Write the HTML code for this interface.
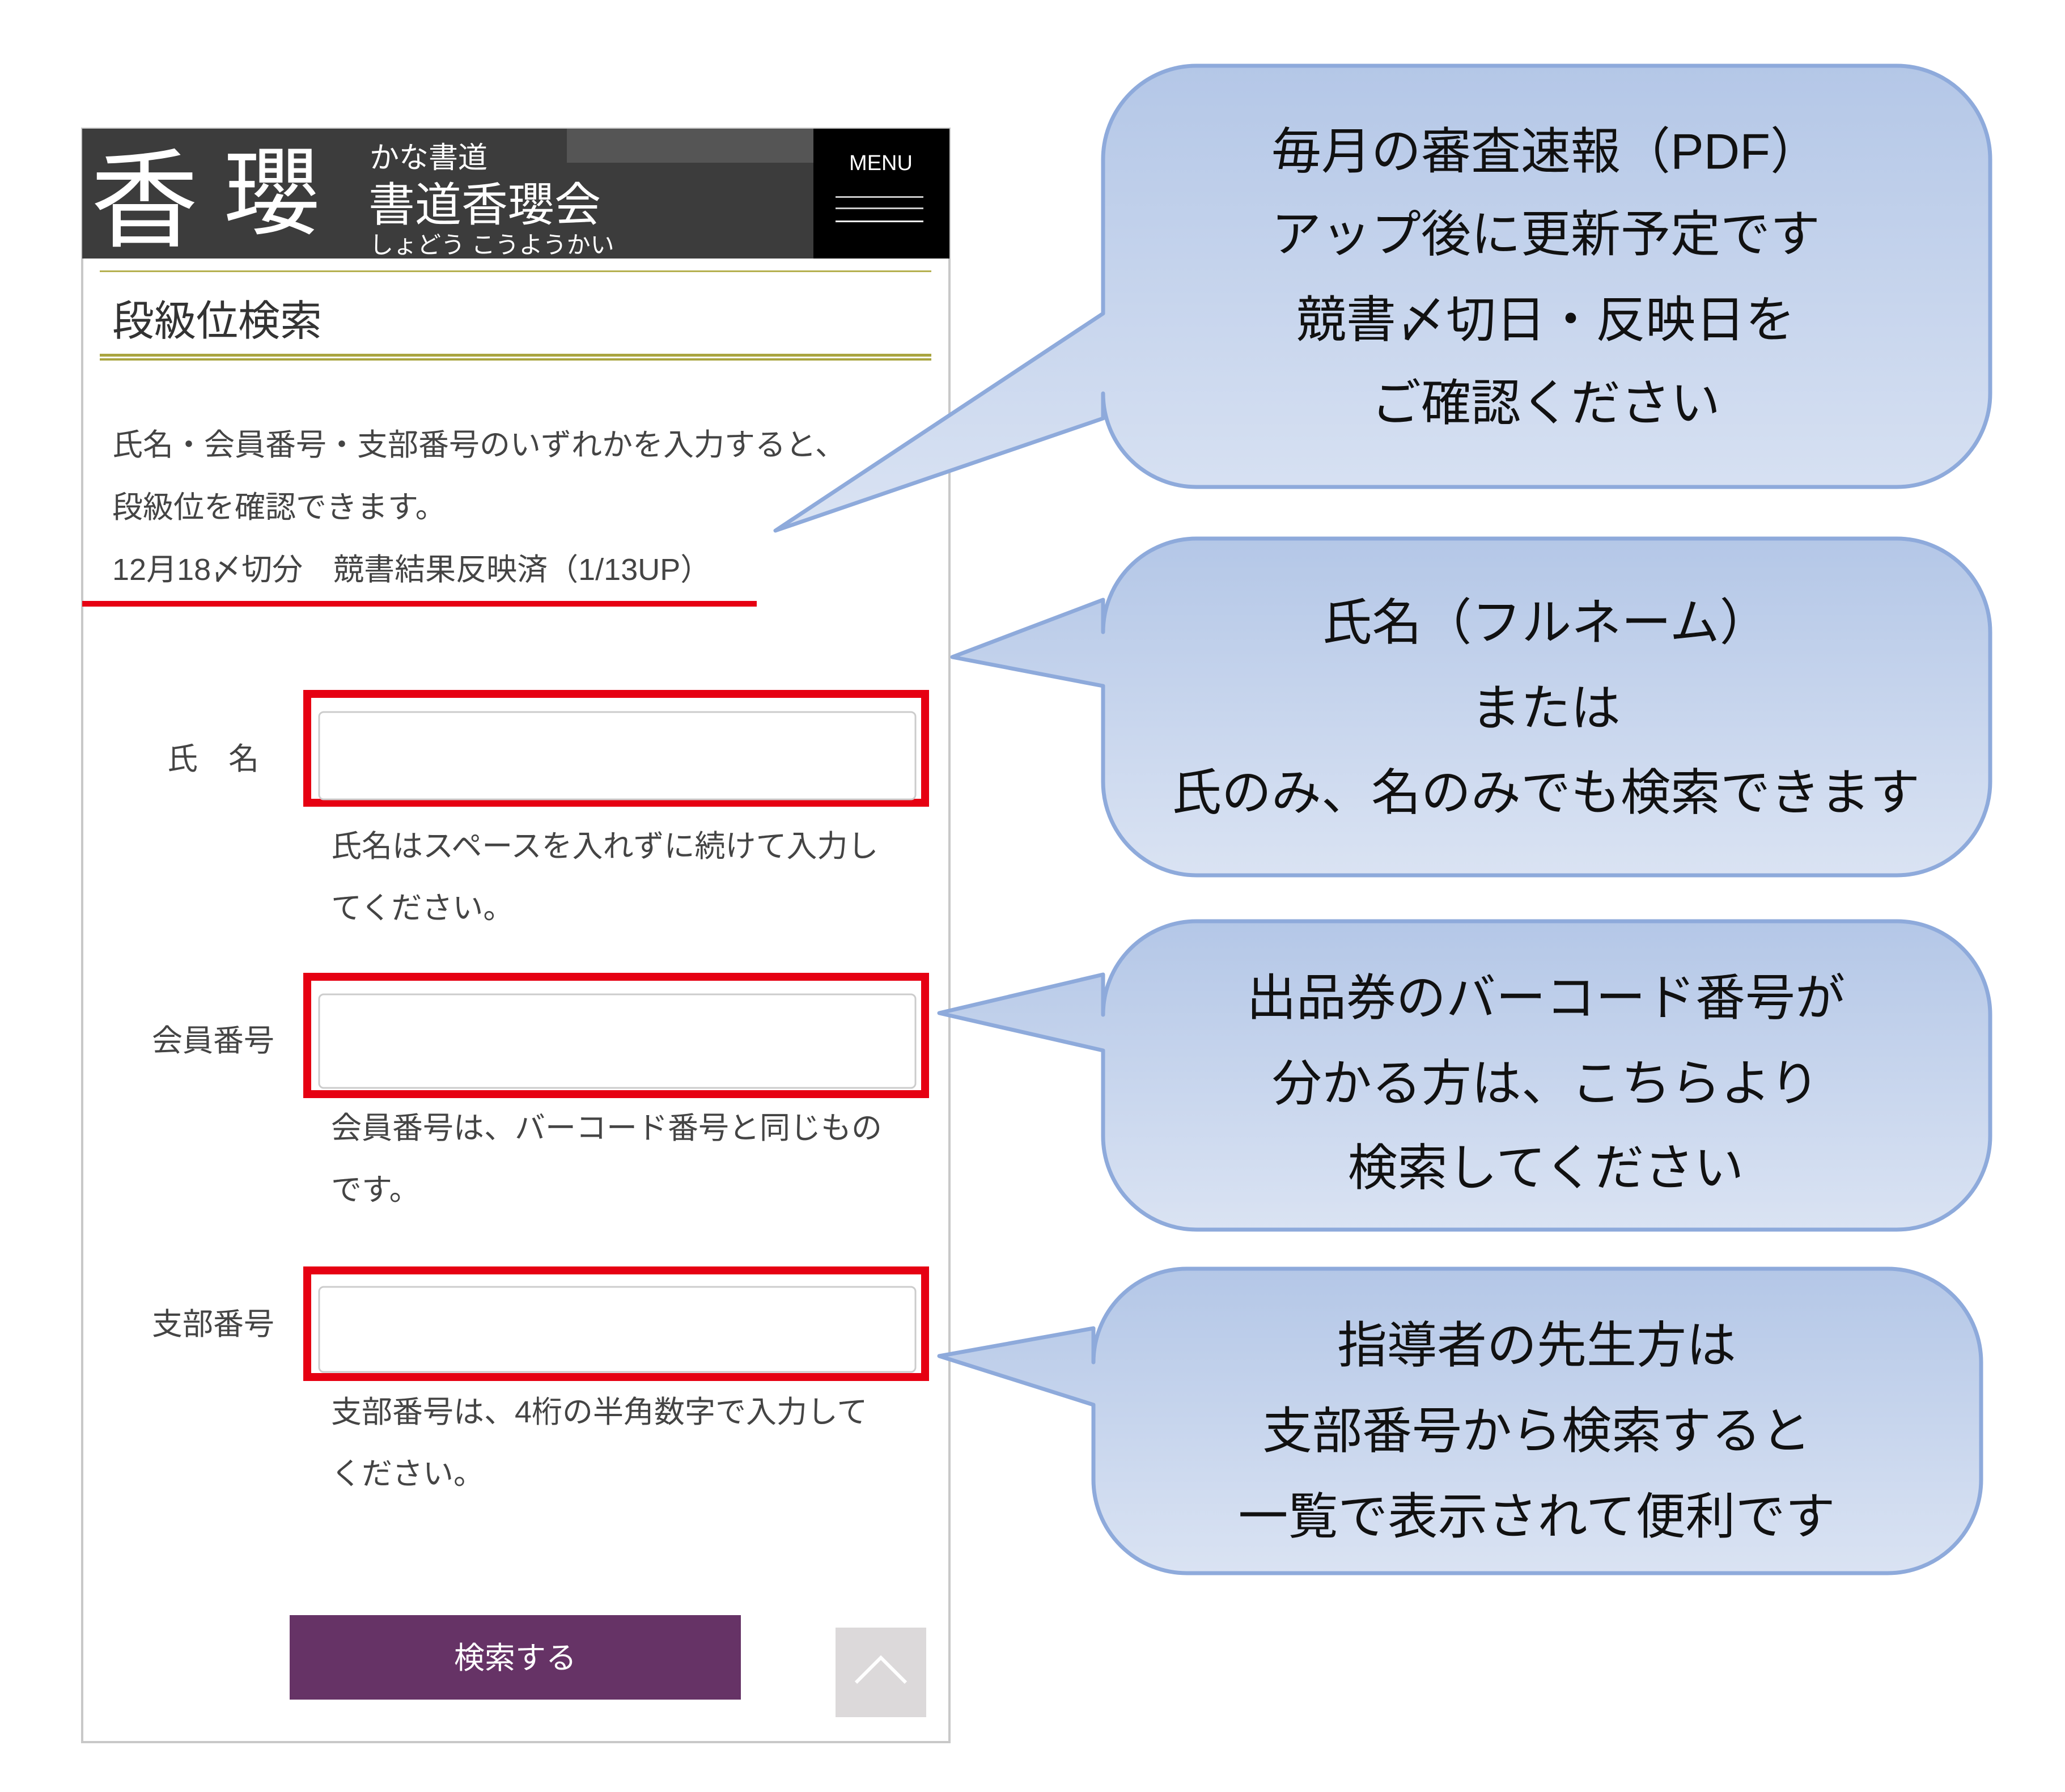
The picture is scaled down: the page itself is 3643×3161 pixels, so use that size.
<!DOCTYPE html>
<html><head><meta charset="utf-8"><style>
html,body{margin:0;padding:0;background:#fff}
svg{display:block}
text{font-family:"Liberation Sans","Noto Sans CJK JP",sans-serif}
</style></head><body>
<svg width="3643" height="3161" viewBox="0 0 3643 3161" xmlns="http://www.w3.org/2000/svg">
<defs>
<linearGradient id="g" x1="0" y1="0" x2="0" y2="1"><stop offset="0" stop-color="#b4c7e7"/><stop offset="1" stop-color="#dae3f3"/></linearGradient>
</defs>
<rect width="3643" height="3161" fill="#fff"/>
<!-- phone frame -->
<rect x="145" y="227" width="1530" height="2846" fill="#fff" stroke="#c8c8c8" stroke-width="4"/>
<rect x="145" y="227" width="1290" height="229" fill="#3c3c3c"/>
<rect x="1000" y="227" width="435" height="60" fill="#555"/>
<rect x="1435" y="227" width="240" height="229" fill="#000"/>
<text x="160" y="420" font-size="190" fill="#fff" font-family="Liberation Serif,'Noto Serif CJK SC',serif">香</text>
<text x="395" y="400" font-size="170" fill="#fff" font-family="Liberation Serif,'Noto Serif CJK SC',serif">瓔</text>
<text x="652" y="279" font-size="52" fill="#fff" dominant-baseline="central">かな書道</text>
<text x="650" y="362" font-size="82" fill="#fff" dominant-baseline="central">書道香瓔会</text>
<text x="652" y="432" font-size="42" fill="#fff" dominant-baseline="central">しょどう こうようかい</text>
<text x="1554" y="288" font-size="38" fill="#fff" text-anchor="middle" dominant-baseline="central">MENU</text>
<rect x="1474" y="346" width="155" height="3" fill="#ccc"/>
<rect x="1474" y="366" width="155" height="3" fill="#ccc"/>
<rect x="1474" y="389" width="155" height="3" fill="#fff"/>
<rect x="176" y="477" width="1467" height="3" fill="#b5b050"/>
<text x="198" y="566" font-size="74" fill="#333" dominant-baseline="central">段級位検索</text>
<rect x="176" y="624" width="1467" height="5" fill="#aaa540"/>
<rect x="176" y="632" width="1467" height="4" fill="#aaa540"/>
<text x="198" y="785" font-size="54" fill="#444" dominant-baseline="central">氏名・会員番号・支部番号のいずれかを入力すると、</text>
<text x="198" y="895" font-size="54" fill="#444" dominant-baseline="central">段級位を確認できます。</text>
<text x="198" y="1005" font-size="54" fill="#444" dominant-baseline="central">12月18〆切分　競書結果反映済（1/13UP）</text>
<rect x="145" y="1060" width="1190" height="10" fill="#e60012"/>
<!-- fields -->
<text x="295" y="1339" font-size="54" fill="#444" dominant-baseline="central">氏　名</text>
<rect x="542" y="1224" width="1090" height="192" fill="#fff" stroke="#e60012" stroke-width="14"/>
<rect x="563" y="1256" width="1052" height="154" rx="8" fill="#fff" stroke="#ccc" stroke-width="3"/>
<text x="584" y="1493" font-size="54" fill="#444" dominant-baseline="central">氏名はスペースを入れずに続けて入力し</text>
<text x="584" y="1602" font-size="54" fill="#444" dominant-baseline="central">てください。</text>
<text x="268" y="1836" font-size="54" fill="#444" dominant-baseline="central">会員番号</text>
<rect x="542" y="1723" width="1090" height="207" fill="#fff" stroke="#e60012" stroke-width="14"/>
<rect x="563" y="1754" width="1052" height="165" rx="8" fill="#fff" stroke="#ccc" stroke-width="3"/>
<text x="584" y="1990" font-size="54" fill="#444" dominant-baseline="central">会員番号は、バーコード番号と同じもの</text>
<text x="584" y="2099" font-size="54" fill="#444" dominant-baseline="central">です。</text>
<text x="268" y="2336" font-size="54" fill="#444" dominant-baseline="central">支部番号</text>
<rect x="542" y="2241" width="1090" height="188" fill="#fff" stroke="#e60012" stroke-width="14"/>
<rect x="563" y="2270" width="1052" height="150" rx="8" fill="#fff" stroke="#ccc" stroke-width="3"/>
<text x="584" y="2491" font-size="54" fill="#444" dominant-baseline="central">支部番号は、4桁の半角数字で入力して</text>
<text x="584" y="2600" font-size="54" fill="#444" dominant-baseline="central">ください。</text>
<!-- button -->
<rect x="511" y="2849" width="796" height="149" fill="#663366"/>
<text x="909" y="2925" font-size="54" fill="#fff" text-anchor="middle" dominant-baseline="central">検索する</text>
<rect x="1474" y="2871" width="160" height="158" fill="#dcd9da"/>
<polyline points="1510,2968 1554,2924 1598,2968" fill="none" stroke="#fff" stroke-width="6"/>
<!-- callouts -->
<g stroke="#8eaadb" stroke-width="7" fill="url(#g)" stroke-linejoin="round">
<path d="M2111,116 H3346 A165,165 0 0 1 3511,281 V694 A165,165 0 0 1 3346,859 H2111 A165,165 0 0 1 1946,694 V738 L1368,936 L1946,553 V281 A165,165 0 0 1 2111,116 Z"/>
<path d="M2111,950 H3346 A165,165 0 0 1 3511,1115 V1379 A165,165 0 0 1 3346,1544 H2111 A165,165 0 0 1 1946,1379 V1210 L1680,1159 L1946,1058 V1115 A165,165 0 0 1 2111,950 Z"/>
<path d="M2111,1643 H3346 A165,165 0 0 1 3511,1808 V2022 A165,165 0 0 1 3346,2187 H2111 A165,165 0 0 1 1946,2022 V1871 L1657,1805 L1946,1737 V1808 A165,165 0 0 1 2111,1643 Z" transform="translate(0,-18)"/>
<path d="M2094,2238 H3330 A165,165 0 0 1 3495,2403 V2610 A165,165 0 0 1 3330,2775 H2094 A165,165 0 0 1 1929,2610 V2478 L1657,2392 L1929,2343 V2403 A165,165 0 0 1 2094,2238 Z"/>
</g>
<g font-size="88" fill="#111" text-anchor="middle" dominant-baseline="central">
<text x="2727" y="267">毎月の審査速報（PDF）</text>
<text x="2727" y="413">アップ後に更新予定です</text>
<text x="2727" y="564">競書〆切日・反映日を</text>
<text x="2727" y="711">ご確認ください</text>
<text x="2727" y="1098">氏名（フルネーム）</text>
<text x="2727" y="1249">または</text>
<text x="2727" y="1398">氏のみ、名のみでも検索できます</text>
<text x="2727" y="1760">出品券のバーコード番号が</text>
<text x="2727" y="1911">分かる方は、こちらより</text>
<text x="2727" y="2060">検索してください</text>
<text x="2711" y="2373">指導者の先生方は</text>
<text x="2711" y="2524">支部番号から検索すると</text>
<text x="2711" y="2675">一覧で表示されて便利です</text>
</g>
</svg>
</body></html>
